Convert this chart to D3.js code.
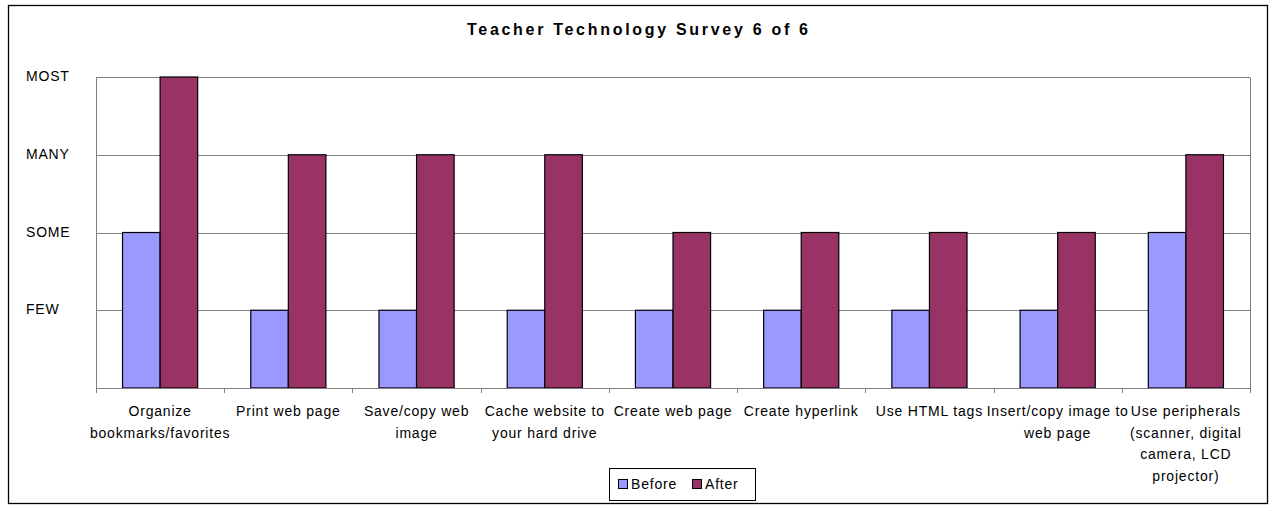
<!DOCTYPE html>
<html lang="en">
<head>
<meta charset="utf-8">
<title>Teacher Technology Survey 6 of 6</title>
<style type="text/css">
  body { margin: 0; background-color: white; font-family: "Liberation Sans", Arial, sans-serif; }
  svg { display: block; }
  .grid line { stroke: #808080; stroke-width: 1px; }
  .axis path, .axis line { stroke: #808080; stroke-width: 1px; fill: none; }
  .catlabel, .ylabel, .legend text { font-size: 14px; letter-spacing: 0.8px; fill: #000; }
  .title { font-size: 16px; font-weight: bold; fill: #000; }
  rect.bar { stroke: #000; stroke-width: 1.2px; }
</style>
</head>
<body>
<script src="https://cdnjs.cloudflare.com/ajax/libs/d3/7.8.5/d3.min.js"></script>
<script type="text/javascript">

var categories = [
  ["Organize", "bookmarks/favorites"],
  ["Print web page"],
  ["Save/copy web", "image"],
  ["Cache website to", "your hard drive"],
  ["Create web page"],
  ["Create hyperlink"],
  ["Use HTML tags"],
  ["Insert/copy image to", "web page"],
  ["Use peripherals", "(scanner, digital", "camera, LCD", "projector)"]
];
var before = [2, 1, 1, 1, 1, 1, 1, 1, 2];
var after = [4, 3, 3, 3, 2, 2, 2, 2, 3];
var levels = ["FEW", "SOME", "MANY", "MOST"];
var seriesNames = ["Before", "After"];
var colors = ["#9999FF", "#993366"];

var fullwidth = 1272;
var fullheight = 512;
var plot = { left: 96, right: 1250, top: 77, bottom: 388 };

var svg = d3.select("body")
  .append("svg")
  .attr("width", fullwidth)
  .attr("height", fullheight);

// outer chart border
svg.append("rect")
  .attr("x", 8.5).attr("y", 5.5)
  .attr("width", 1259).attr("height", 498)
  .attr("fill", "white")
  .attr("stroke", "#000")
  .attr("stroke-width", 1.3);

svg.append("text")
  .attr("class", "title")
  .attr("x", 637.5).attr("y", 35)
  .attr("text-anchor", "middle")
  .attr("textLength", 341)
  .attr("lengthAdjust", "spacing")
  .text("Teacher Technology Survey 6 of 6");

var idx = d3.range(categories.length);

var xScale = d3.scaleBand()
  .domain(idx)
  .range([plot.left, plot.right])
  .paddingInner(0).paddingOuter(0);

var yScale = d3.scaleLinear()
  .domain([0, levels.length])
  .range([plot.bottom, plot.top]);

// gridlines
svg.append("g")
  .attr("class", "grid")
  .selectAll("line")
  .data(d3.range(1, levels.length + 1))
  .enter()
  .append("line")
  .attr("x1", plot.left).attr("x2", plot.right)
  .attr("y1", function(d) { return Math.round(yScale(d)) + 0.5; })
  .attr("y2", function(d) { return Math.round(yScale(d)) + 0.5; });

// plot area right edge
svg.append("line")
  .attr("x1", plot.right + 0.5).attr("x2", plot.right + 0.5)
  .attr("y1", plot.top + 0.5).attr("y2", plot.bottom)
  .attr("stroke", "#808080");

// y axis line
svg.append("line")
  .attr("class", "axis")
  .attr("x1", plot.left + 0.5).attr("x2", plot.left + 0.5)
  .attr("y1", plot.top + 0.5).attr("y2", plot.bottom + 0.5)
  .attr("stroke", "#808080");

// y labels
svg.selectAll("text.ylabel")
  .data(levels)
  .enter()
  .append("text")
  .attr("class", "ylabel")
  .attr("x", 26)
  .attr("y", function(d, i) { return yScale(i + 1); })
  .attr("dy", "0.3em")
  .text(function(d) { return d; });

// bars
var bw = xScale.bandwidth() * 0.293;
var off = (xScale.bandwidth() - 2 * bw) / 2;
var series = [before, after];

series.forEach(function(vals, s) {
  svg.append("g")
    .selectAll("rect")
    .data(vals)
    .enter()
    .append("rect")
    .attr("class", "bar")
    .attr("x", function(d, i) { return xScale(i) + off + s * bw; })
    .attr("y", function(d) { return yScale(d); })
    .attr("width", bw)
    .attr("height", function(d) { return yScale(0) - yScale(d); })
    .attr("fill", colors[s]);
});

// x axis
svg.append("g")
  .attr("class", "axis")
  .attr("transform", "translate(0," + (plot.bottom + 0.5) + ")")
  .call(d3.axisBottom(xScale).tickSize(0).tickFormat(""))
  .select(".domain").attr("d", "M" + plot.left + ",0H" + plot.right);

svg.append("g")
  .attr("class", "axis")
  .selectAll("line")
  .data(d3.range(categories.length + 1))
  .enter()
  .append("line")
  .attr("x1", function(d) { return Math.round(plot.left + d * xScale.step()) + 0.5; })
  .attr("x2", function(d) { return Math.round(plot.left + d * xScale.step()) + 0.5; })
  .attr("y1", plot.bottom).attr("y2", plot.bottom + 5);

// category labels
var labels = svg.selectAll("text.catlabel")
  .data(categories)
  .enter()
  .append("text")
  .attr("class", "catlabel")
  .attr("text-anchor", "middle");

labels.selectAll("tspan")
  .data(function(d, i) { return d.map(function(t) { return { t: t, i: i }; }); })
  .enter()
  .append("tspan")
  .attr("x", function(d) { return xScale(d.i) + xScale.bandwidth() / 2; })
  .attr("y", function(d, j) { return 416 + j * 21.7; })
  .text(function(d) { return d.t; });

// legend
var legend = svg.append("g").attr("class", "legend");
legend.append("rect")
  .attr("x", 609.5).attr("y", 468.5)
  .attr("width", 146).attr("height", 32)
  .attr("fill", "white").attr("stroke", "#000").attr("stroke-width", 1);

var legX = [618, 692];
seriesNames.forEach(function(name, s) {
  legend.append("rect")
    .attr("x", legX[s] + 0.5).attr("y", 479.5)
    .attr("width", 9).attr("height", 9)
    .attr("fill", colors[s]).attr("stroke", "#000").attr("stroke-width", 1);
  legend.append("text")
    .attr("x", legX[s] + 13).attr("y", 489)
    .text(name);
});

</script>
</body>
</html>
